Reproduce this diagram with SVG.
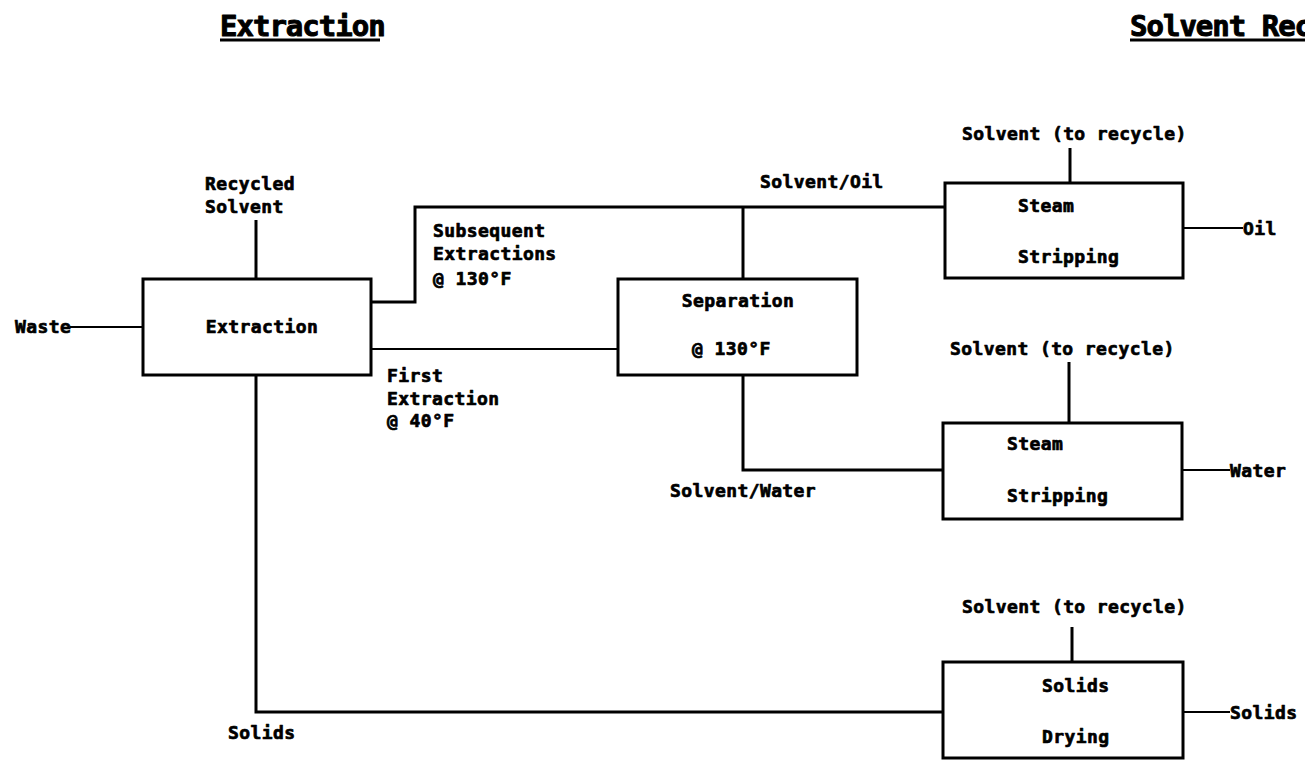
<svg xmlns="http://www.w3.org/2000/svg" width="1305" height="760" viewBox="0 0 1305 760">
  <style>
    .box { fill: #fff; stroke: #000; stroke-width: 3; }
    .ln { fill: none; stroke: #000; stroke-width: 3; }
    .thin { fill: none; stroke: #000; stroke-width: 2.2; }
    text { font-family: "DejaVu Sans Mono", "Liberation Mono", monospace; font-weight: bold; fill: #000; stroke: #000; stroke-linejoin: round; }
    .lbl { font-size: 18px; letter-spacing: 0.4px; stroke-width: 0.7px; }
    .ttl { font-size: 29px; letter-spacing: -1px; stroke-width: 1px; }
  </style>
  <rect width="1305" height="760" fill="#fff"/>

  <!-- section headings -->
  <g id="headings">
    <text class="ttl" x="220" y="36">Extraction</text>
    <line class="ln" x1="220" y1="40" x2="380" y2="40"/>
    <text class="ttl" x="1130" y="36">Solvent Recovery</text>
    <line class="ln" x1="1130" y1="40" x2="1305" y2="40"/>
  </g>

  <!-- stream connectors -->
  <g id="connectors">
    <line class="thin" x1="70" y1="327" x2="143" y2="327"/>
    <line class="ln" x1="256" y1="220" x2="256" y2="279"/>
    <path class="ln" d="M371,302 H415 V207 H945"/>
    <line class="ln" x1="743" y1="207" x2="743" y2="279"/>
    <line class="thin" x1="371" y1="349" x2="618" y2="349"/>
    <path class="ln" d="M743,375 V470 H943"/>
    <path class="ln" d="M256,375 V712 H943"/>
    <line class="ln" x1="1070" y1="148" x2="1070" y2="183"/>
    <line class="thin" x1="1183" y1="228" x2="1243" y2="228"/>
    <line class="ln" x1="1069" y1="362" x2="1069" y2="423"/>
    <line class="thin" x1="1182" y1="470" x2="1230" y2="470"/>
    <line class="ln" x1="1072" y1="627" x2="1072" y2="662"/>
    <line class="thin" x1="1183" y1="712" x2="1230" y2="712"/>
  </g>

  <!-- stream labels -->
  <g id="stream-labels">
    <text class="lbl" x="15" y="333">Waste</text>
    <text class="lbl" x="205" y="190">Recycled</text>
    <text class="lbl" x="205" y="213">Solvent</text>
    <text class="lbl" x="433" y="237">Subsequent</text>
    <text class="lbl" x="433" y="260">Extractions</text>
    <text class="lbl" x="433" y="285">@ 130°F</text>
    <text class="lbl" x="387" y="382">First</text>
    <text class="lbl" x="387" y="405">Extraction</text>
    <text class="lbl" x="387" y="427">@ 40°F</text>
    <text class="lbl" x="760" y="188">Solvent/Oil</text>
    <text class="lbl" x="670" y="497">Solvent/Water</text>
    <text class="lbl" x="228" y="739">Solids</text>
    <text class="lbl" x="962" y="140">Solvent (to recycle)</text>
    <text class="lbl" x="950" y="355">Solvent (to recycle)</text>
    <text class="lbl" x="962" y="613">Solvent (to recycle)</text>
    <text class="lbl" x="1243" y="235">Oil</text>
    <text class="lbl" x="1230" y="477">Water</text>
    <text class="lbl" x="1230" y="719">Solids</text>
  </g>

  <g id="extraction">
    <rect class="box" x="143" y="279" width="228" height="96"/>
    <text class="lbl" x="262" y="333" text-anchor="middle">Extraction</text>
  </g>

  <g id="separation">
    <rect class="box" x="618" y="279" width="239" height="96"/>
    <text class="lbl" x="738" y="307" text-anchor="middle">Separation</text>
    <text class="lbl" x="692" y="355">@ 130°F</text>
  </g>

  <g id="stripping-oil">
    <rect class="box" x="945" y="183" width="238" height="95"/>
    <text class="lbl" x="1018" y="212">Steam</text>
    <text class="lbl" x="1018" y="263">Stripping</text>
  </g>

  <g id="stripping-water">
    <rect class="box" x="943" y="423" width="239" height="96"/>
    <text class="lbl" x="1007" y="450">Steam</text>
    <text class="lbl" x="1007" y="502">Stripping</text>
  </g>

  <g id="solids-drying">
    <rect class="box" x="943" y="662" width="240" height="96"/>
    <text class="lbl" x="1042" y="692">Solids</text>
    <text class="lbl" x="1042" y="743">Drying</text>
  </g>
</svg>
